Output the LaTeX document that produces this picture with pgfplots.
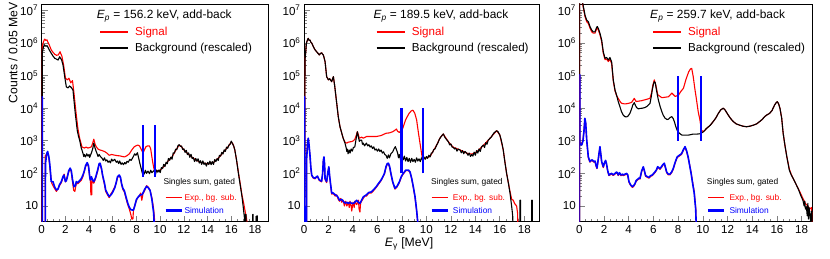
\documentclass[border=0pt]{standalone}
\usepackage{pgfplots}
\pgfplotsset{compat=1.18}
\usepackage{fontspec}
\setmainfont{Liberation Sans}
\definecolor{rootred}{RGB}{255,0,0}
\definecolor{rootblue}{RGB}{0,0,255}
\pgfplotsset{
 myAxisStyle/.style={
  scale only axis, ymin=3.3, ymax=1.57e7, xmin=0,
  height=217.7pt, anchor=south west,
  tick pos=left, tick align=inside,
  major tick length=6pt, minor tick length=3pt,
  xtick={0,2,...,18}, minor x tick num=3,
  ytick={10,100,1000,10000,100000,1000000,10000000},
  yticklabels={10,10\textsuperscript{2},10\textsuperscript{3},10\textsuperscript{4},10\textsuperscript{5},10\textsuperscript{6},10\textsuperscript{7}},
  /pgf/number format/assume math mode=true,
  tick label style={font=\fontsize{11.6}{13}\selectfont},
  xticklabel style={yshift=-0.5pt},
  axis line style={line width=0.8pt},
  every tick/.append style={line width=0.7pt},
  clip=true,
 },
}
\tikzset{
 myBg/.style={black, line width=1.1pt, line join=round},
 mySig/.style={rootred, line width=1.1pt, line join=round},
 myExp/.style={rootred, line width=1.1pt, line join=round},
 mySim/.style={rootblue, line width=1.6pt, line join=round},
 myGate/.style={rootblue, line width=2.4pt},
}
\begin{document}
\begin{tikzpicture}
\path[use as bounding box] (0,0) rectangle (830pt,259pt);
% ---------------- Panel 1 ----------------
\begin{axis}[ymode=log, myAxisStyle, at={(41.7pt,37.3pt)}, width=226.3pt, xmax=19.1]
\addplot[mySig] coordinates {(0.02,1) (0.05,8e5) (0.15,1.1e6) (0.25,1.32e6) (0.35,1.2e6) (0.45,1.25e6) (0.5,1.1e6) (0.65,8.5e5) (0.8,6.2e5) (0.95,5.2e5) (1.1,4.5e5) (1.25,4.2e5) (1.4,4.3e5) (1.55,5.4e5) (1.62,4.6e5) (1.7,4.0e5) (1.85,2.1e5) (2.0,8.5e4) (2.15,7.4e4) (2.3,8.3e4) (2.45,6.0e4) (2.6,7.0e4) (2.72,3.0e4) (2.9,7.1e3) (3.05,2.45e3) (3.2,1.2e3) (3.4,650) (3.6,600) (3.75,640) (3.9,600) (4.05,620) (4.2,660) (4.3,850) (4.4,1120) (4.5,800) (4.6,660) (4.75,560) (4.9,525) (5.1,500) (5.3,470) (5.5,420) (5.7,360) (5.9,380) (6.2,360) (6.4,350) (6.6,345) (6.8,330) (7.0,320) (7.2,350) (7.4,400) (7.6,520) (7.8,650) (7.95,700) (8.1,740) (8.25,700) (8.4,550) (8.55,420) (8.7,560) (8.8,660) (8.95,700) (9.1,690) (9.2,560) (9.3,320) (9.4,190) (9.5,125) (9.6,110) (9.8,120) (10.0,125) (10.3,160) (10.6,225) (11.0,320) (11.3,500) (11.6,740) (11.8,660) (12.0,525) (12.5,355) (13.0,257) (13.5,215) (14.0,195) (14.5,215) (15.0,320) (15.5,525) (15.8,710) (16.0,930) (16.15,790) (16.3,525) (16.45,250) (16.6,110) (16.75,50) (16.9,22) (17.05,12) (17.2,6) (17.3,4) (17.35,1)};
\addplot[myBg] coordinates {(0.02,1) (0.05,5e5) (0.15,7.8e5) (0.25,8.7e5) (0.35,7.9e5) (0.45,8.3e5) (0.53,7.4e5) (0.65,6.0e5) (0.81,4.8e5) (0.95,4.0e5) (1.1,3.4e5) (1.25,3.2e5) (1.38,3.0e5) (1.52,3.8e5) (1.6,3.3e5) (1.66,3.2e5) (1.8,2.1e5) (1.94,9.3e4) (2.08,4.5e4) (2.22,4.2e4) (2.36,4.8e4) (2.5,4.3e4) (2.64,3.6e4) (2.72,1.8e4) (2.83,7.1e3) (3.0,2.1e3) (3.1,1.4e3) (3.2,1.05e3) (3.34,600) (3.48,420) (3.55,330) (3.6,380) (3.7,320) (3.8,400) (3.9,340) (4.0,380) (4.05,310) (4.19,420) (4.3,560) (4.4,850) (4.5,600) (4.6,470) (4.7,380) (4.75,330) (4.85,380) (4.95,330) (5.1,290) (5.2,250) (5.3,300) (5.4,240) (5.5,260) (5.6,220) (5.7,240) (5.8,210) (5.9,275) (6.0,240) (6.16,270) (6.3,220) (6.4,240) (6.5,200) (6.58,240) (6.7,190) (6.8,210) (6.9,185) (7.0,215) (7.1,195) (7.2,235) (7.3,220) (7.44,270) (7.55,250) (7.72,320) (7.85,400) (7.95,360) (8.08,430) (8.2,280) (8.28,205) (8.4,140) (8.5,100) (8.55,118) (8.65,95) (8.75,125) (8.85,100) (8.97,118) (9.1,98) (9.2,125) (9.3,105) (9.4,115) (9.5,123) (9.6,92) (9.7,127) (9.8,109) (9.9,128) (10.0,106) (10.1,151) (10.2,141) (10.3,189) (10.4,162) (10.5,220) (10.6,198) (10.7,288) (10.8,253) (10.9,315) (11.0,272) (11.1,426) (11.2,418) (11.3,550) (11.4,534) (11.5,704) (11.6,760) (11.7,675) (11.8,693) (11.9,543) (12.0,567) (12.1,441) (12.2,510) (12.3,378) (12.4,424) (12.5,312) (12.6,385) (12.7,285) (12.8,305) (12.9,231) (13.0,288) (13.1,236) (13.2,281) (13.3,207) (13.4,244) (13.5,189) (13.6,242) (13.7,189) (13.8,210) (13.9,167) (14.0,218) (14.1,188) (14.2,238) (14.3,185) (14.4,231) (14.5,189) (14.6,265) (14.7,230) (14.8,284) (14.9,251) (15.0,358) (15.1,337) (15.2,442) (15.3,392) (15.4,528) (15.5,473) (15.6,638) (15.7,589) (15.8,746) (15.9,779) (16.0,977) (16.1,817) (16.2,700) (16.3,525) (16.45,250) (16.6,102) (16.75,45) (16.9,20) (17.0,10) (17.1,4.7) (17.15,1) (17.2,1) (17.2,5.5) (17.25,5.5) (17.25,1) (17.8,1) (17.8,5.5) (17.85,5.5) (17.85,1) (18.15,1) (18.15,5) (18.2,5) (18.2,1)};
\addplot[myExp] coordinates {(0,1) (0,2e4) (0.05,2e4) (0.05,1) (0.28,1) (0.3,350) (0.4,380) (0.5,420) (0.6,300) (0.67,180) (0.75,90) (0.85,50) (0.95,42) (1.1,34) (1.24,28) (1.38,34) (1.5,42) (1.66,52) (1.8,75) (1.9,95) (2.0,55) (2.08,62) (2.17,85) (2.28,110) (2.4,140) (2.5,110) (2.6,55) (2.7,30) (2.8,28) (2.92,50) (3.05,48) (3.2,55) (3.35,62) (3.48,80) (3.6,115) (3.7,160) (3.84,200) (3.95,160) (4.05,80) (4.12,55) (4.15,22) (4.22,22) (4.25,70) (4.3,60) (4.4,50) (4.55,70) (4.73,120) (4.85,190) (4.93,195) (5.05,130) (5.15,80) (5.3,45) (5.4,28) (5.55,22) (5.7,18) (5.85,24) (5.98,28) (6.18,40) (6.3,52) (6.4,75) (6.55,85) (6.65,72) (6.75,45) (6.85,32) (6.98,27) (7.1,18) (7.26,11) (7.4,8) (7.55,5) (7.6,4) (7.7,4) (7.75,8) (7.85,10) (7.97,14) (8.1,18) (8.26,20) (8.35,25) (8.45,15) (8.55,24) (8.7,30) (8.85,42) (9.0,38) (9.15,30) (9.3,18) (9.45,8) (9.55,3) (9.6,1)};
\addplot[mySim] coordinates {(0,1) (0,2.2e4) (0.05,2.2e4) (0.05,1) (0.3,1) (0.32,200) (0.42,400) (0.5,470) (0.6,330) (0.67,210) (0.75,100) (0.8,56) (0.95,56) (1.1,38) (1.24,31) (1.38,33) (1.5,45) (1.66,56) (1.8,80) (1.88,89) (2.0,56) (2.08,60) (2.17,79) (2.28,120) (2.4,145) (2.5,120) (2.6,65) (2.72,39) (2.85,42) (2.92,56) (3.05,52) (3.2,60) (3.35,70) (3.48,89) (3.6,120) (3.7,170) (3.84,214) (3.95,170) (4.05,80) (4.1,63) (4.2,79) (4.3,62) (4.4,56) (4.55,75) (4.73,130) (4.85,200) (4.93,205) (5.05,140) (5.15,85) (5.3,50) (5.4,31) (5.55,24) (5.7,19.5) (5.85,22) (5.98,26) (6.18,37) (6.3,55) (6.4,79) (6.55,89) (6.65,75) (6.75,47) (6.85,35) (6.98,29) (7.1,20) (7.26,12.3) (7.4,9) (7.55,7.6) (7.75,7.5) (7.85,10) (8.0,16) (8.15,19) (8.3,22) (8.45,22) (8.55,25) (8.7,33) (8.85,40) (9.0,36) (9.15,30) (9.3,16) (9.45,6) (9.55,1)};
\addplot[myGate] coordinates {(8.57,80) (8.57,3000)};
\addplot[myGate] coordinates {(9.57,80) (9.57,3000)};
\end{axis}
% ---------------- Panel 2 ----------------
\begin{axis}[ymode=log, myAxisStyle, at={(304pt,37.3pt)}, width=235pt, xmax=19.2]
\addplot[mySig] coordinates {(0.05,1) (0.08,3e5) (0.2,1.0e6) (0.3,1.3e6) (0.35,1.38e6) (0.42,1.2e6) (0.49,1.23e6) (0.56,1.05e6) (0.63,1.0e6) (0.76,7.8e5) (0.9,6.2e5) (1.03,5.4e5) (1.15,4.8e5) (1.25,4.3e5) (1.35,4.8e5) (1.44,5.0e5) (1.52,4.5e5) (1.58,4.3e5) (1.72,2.7e5) (1.85,9.3e4) (1.99,7.4e4) (2.1,8.0e4) (2.26,6.5e4) (2.4,9.3e4) (2.5,5.1e4) (2.67,1.45e4) (2.8,5.5e3) (2.94,2.7e3) (3.08,1.74e3) (3.2,1.2e3) (3.35,900) (3.49,850) (3.6,900) (3.76,930) (3.9,950) (4.03,1000) (4.15,1100) (4.25,1400) (4.36,1900) (4.45,1500) (4.52,1200) (4.71,1300) (4.84,1200) (5.1,1350) (5.5,1350) (5.9,1350) (6.3,1450) (6.7,1700) (6.98,1750) (7.25,1900) (7.46,2150) (7.55,2300) (7.65,1950) (7.79,1800) (7.9,2000) (8.06,2350) (8.3,4400) (8.57,6800) (8.75,8200) (8.9,8700) (9.05,7000) (9.2,4400) (9.35,1740) (9.48,830) (9.6,420) (9.69,257) (9.8,290) (10.0,300) (10.3,330) (10.6,520) (10.84,740) (11.1,1200) (11.38,1620) (11.6,1200) (11.8,930) (12.2,630) (12.75,525) (13.3,417) (13.7,390) (14.1,450) (14.65,720) (15.2,1200) (15.74,2040) (16.0,1500) (16.28,520) (16.55,102) (16.83,28) (16.97,16) (17.1,15) (17.2,12) (17.37,10) (17.45,6) (17.5,1)};
\addplot[myBg] coordinates {(0.05,1) (0.08,3e5) (0.2,1.0e6) (0.3,1.3e6) (0.35,1.38e6) (0.42,1.2e6) (0.49,1.23e6) (0.56,1.05e6) (0.63,1.0e6) (0.76,7.8e5) (0.9,6.2e5) (1.03,5.4e5) (1.15,4.8e5) (1.25,4.3e5) (1.35,4.8e5) (1.44,5.0e5) (1.52,4.5e5) (1.58,4.3e5) (1.72,2.7e5) (1.85,9.3e4) (1.99,7.4e4) (2.1,8.0e4) (2.26,6.5e4) (2.4,9.3e4) (2.5,5.1e4) (2.67,1.45e4) (2.8,5.5e3) (2.94,2.7e3) (3.08,1.74e3) (3.2,1.2e3) (3.35,850) (3.45,600) (3.5,470) (3.55,550) (3.6,400) (3.7,520) (3.76,420) (3.85,560) (3.95,480) (4.03,620) (4.15,650) (4.25,1100) (4.36,1900) (4.45,1300) (4.52,960) (4.6,1050) (4.71,1050) (4.78,780) (4.84,850) (4.95,700) (5.1,850) (5.2,700) (5.3,760) (5.4,640) (5.5,700) (5.6,580) (5.7,650) (5.8,520) (5.9,560) (6.0,480) (6.1,560) (6.2,470) (6.3,520) (6.4,420) (6.5,460) (6.6,380) (6.7,360) (6.8,290) (6.9,370) (6.98,300) (7.1,400) (7.25,460) (7.35,560) (7.46,660) (7.55,540) (7.65,420) (7.72,300) (7.79,380) (7.9,250) (8.0,330) (8.1,260) (8.2,340) (8.3,240) (8.4,310) (8.5,230) (8.6,290) (8.7,220) (8.8,290) (8.9,230) (9.0,270) (9.1,220) (9.2,300) (9.3,240) (9.4,280) (9.5,230) (9.6,300) (9.7,250) (9.8,320) (9.9,270) (10.0,330) (10.1,290) (10.2,360) (10.3,320) (10.4,420) (10.5,430) (10.6,540) (10.7,560) (10.84,740) (10.95,880) (11.05,1100) (11.2,1350) (11.38,1620) (11.5,1300) (11.6,1150) (11.8,930) (11.9,750) (12.0,800) (12.1,640) (12.2,630) (12.3,560) (12.4,600) (12.5,480) (12.6,560) (12.75,525) (12.85,430) (12.95,500) (13.05,400) (13.15,470) (13.3,417) (13.4,360) (13.5,420) (13.6,330) (13.7,380) (13.8,340) (13.9,450) (14.0,360) (14.1,500) (14.2,420) (14.3,560) (14.4,470) (14.5,650) (14.65,740) (14.75,620) (14.85,880) (14.95,780) (15.05,1050) (15.2,1200) (15.3,1300) (15.4,1500) (15.5,1700) (15.6,1850) (15.74,2040) (15.85,1900) (16.0,1500) (16.1,1100) (16.2,750) (16.28,520) (16.4,240) (16.55,102) (16.7,50) (16.83,25) (16.97,9.5) (17.05,5) (17.1,1) (17.65,1) (17.65,15) (17.7,15) (17.7,1) (18.6,1) (18.6,15) (18.65,15) (18.65,1)};
\addplot[myExp] coordinates {(0,1) (0,2.2e4) (0.05,2.2e4) (0.05,1) (0.2,1) (0.22,350) (0.3,950) (0.35,1150) (0.42,650) (0.5,300) (0.56,140) (0.63,85) (0.75,72) (0.9,68) (1.0,75) (1.1,80) (1.25,60) (1.44,55) (1.52,95) (1.58,240) (1.63,300) (1.68,190) (1.72,65) (1.85,52) (1.95,100) (2.03,150) (2.1,75) (2.26,23) (2.4,24) (2.55,20) (2.67,22) (2.8,16) (2.9,14) (3.0,17) (3.08,13) (3.2,15) (3.3,10) (3.4,14) (3.5,10) (3.62,13) (3.7,9) (3.76,14) (3.85,10) (3.9,7) (4.0,13) (4.1,9) (4.15,14) (4.3,11) (4.45,15) (4.5,8) (4.57,6.5) (4.62,12) (4.7,14) (4.84,17) (5.0,21) (5.1,20) (5.3,25) (5.5,25) (5.7,30) (5.9,37) (6.1,47) (6.3,60) (6.45,77) (6.57,95) (6.7,150) (6.8,190) (6.9,195) (7.0,150) (7.1,95) (7.25,52) (7.43,33) (7.6,38) (7.79,52) (7.95,76) (8.06,90) (8.2,105) (8.3,120) (8.44,122) (8.55,120) (8.66,108) (8.8,68) (8.93,37) (9.07,18) (9.2,7) (9.3,3) (9.34,1)};
\addplot[mySim] coordinates {(0,1) (0,2.2e4) (0.05,2.2e4) (0.05,1) (0.2,1) (0.22,300) (0.3,900) (0.35,1200) (0.42,700) (0.5,320) (0.56,150) (0.63,89) (0.75,75) (0.9,71) (1.0,78) (1.1,82) (1.25,63) (1.44,58) (1.52,100) (1.58,250) (1.63,320) (1.68,200) (1.72,70) (1.85,56) (1.95,110) (2.03,160) (2.1,80) (2.26,25) (2.4,25) (2.55,22) (2.67,21) (2.8,18) (2.9,15) (3.08,16) (3.2,14) (3.35,12.3) (3.5,13) (3.62,12) (3.76,13) (3.9,12) (4.03,12) (4.15,13) (4.3,15) (4.45,13) (4.57,12) (4.7,15) (4.84,19) (5.1,22) (5.3,26) (5.5,27) (5.7,32) (5.9,39) (6.1,50) (6.3,63) (6.45,80) (6.57,100) (6.7,160) (6.8,200) (6.9,205) (7.0,160) (7.1,100) (7.25,55) (7.43,35) (7.6,40) (7.79,55) (7.95,80) (8.06,95) (8.2,110) (8.3,125) (8.44,126) (8.55,125) (8.66,112) (8.8,70) (8.93,39) (9.07,19.5) (9.2,7.6) (9.3,3) (9.34,1)};
\addplot[myGate] coordinates {(7.98,100) (7.98,1e4)};
\addplot[myGate] coordinates {(9.7,100) (9.7,1e4)};
\end{axis}
% ---------------- Panel 3 ----------------
\begin{axis}[ymode=log, myAxisStyle, at={(579.3pt,37.3pt)}, width=233.5pt, xmax=18.9]
\addplot[mySig] coordinates {(0.02,1) (0.03,2.7e7) (0.2,2.2e7) (0.3,1.35e7) (0.46,6.5e6) (0.6,4.5e6) (0.73,4.0e6) (0.86,2.9e6) (1.0,2.2e6) (1.13,2.0e6) (1.27,2.0e6) (1.4,2.7e6) (1.46,2.9e6) (1.54,2.5e6) (1.67,1.8e6) (1.81,1.1e6) (1.94,4.9e5) (2.08,3.1e5) (2.21,3.2e5) (2.35,2.7e5) (2.48,3.2e5) (2.62,2.3e5) (2.75,6.8e4) (2.89,3.4e4) (3.02,2.4e4) (3.15,2.0e4) (3.3,1.6e4) (3.42,1.41e4) (3.69,1.35e4) (3.96,1.4e4) (4.23,1.5e4) (4.45,2.0e4) (4.6,1.6e4) (5.05,1.7e4) (5.72,2.0e4) (5.85,3.0e4) (5.95,5e4) (6.07,7.4e4) (6.2,5e4) (6.35,2.6e4) (6.68,2.1e4) (7.22,2.24e4) (7.49,2.9e4) (7.76,2.3e4) (8.03,2.5e4) (8.2,3.2e4) (8.43,4.1e4) (8.65,8.0e4) (8.86,1.32e5) (9.0,1.6e5) (9.1,1.66e5) (9.22,9.3e4) (9.35,4e4) (9.49,1.78e4) (9.62,8e3) (9.76,4.4e3) (9.89,2.1e3) (10.05,1.9e3) (10.3,2.4e3) (10.6,3.0e3) (10.84,3.9e3) (11.05,5.0e3) (11.25,6.9e3) (11.45,8.9e3) (11.65,1.0e4) (11.8,8.8e3) (12.05,6.2e3) (12.25,4.8e3) (12.46,3.9e3) (12.7,3.3e3) (13.0,3.0e3) (13.25,2.8e3) (13.53,2.7e3) (13.8,2.8e3) (14.07,3.0e3) (14.35,3.3e3) (14.6,3.9e3) (14.8,4.5e3) (15.0,5.5e3) (15.2,6.3e3) (15.4,6.9e3) (15.6,8.5e3) (15.81,1.26e4) (15.92,1.45e4) (16.02,1.58e4) (16.12,1.4e4) (16.24,1.0e4) (16.38,5.0e3) (16.5,1.7e3) (16.65,700) (16.8,320) (16.9,210) (17.0,135) (17.15,95) (17.3,71) (17.57,44) (17.8,30) (18.1,17) (18.3,12) (18.5,10) (18.65,8) (18.8,9) (18.87,1)};
\addplot[myBg] coordinates {(0.02,1) (0.03,3e7) (0.2,2.5e7) (0.3,1.5e7) (0.46,7.2e6) (0.6,5.0e6) (0.73,4.5e6) (0.86,3.2e6) (1.0,2.5e6) (1.13,2.2e6) (1.27,2.2e6) (1.4,3.0e6) (1.46,3.2e6) (1.54,2.8e6) (1.67,2.0e6) (1.81,1.23e6) (1.94,5.4e5) (2.08,3.4e5) (2.21,3.6e5) (2.35,3.0e5) (2.48,3.6e5) (2.62,2.6e5) (2.75,7.4e4) (2.89,3.6e4) (3.02,2.5e4) (3.15,1.6e4) (3.29,1.1e4) (3.42,7.8e3) (3.55,6.2e3) (3.69,5.5e3) (3.83,5.4e3) (3.96,5.8e3) (4.1,7.0e3) (4.23,9.5e3) (4.33,1.25e4) (4.45,1.48e4) (4.55,1.2e4) (4.64,1.05e4) (4.78,9.5e3) (4.91,9.8e3) (5.1,1.0e4) (5.32,1.05e4) (5.5,1.15e4) (5.72,1.4e4) (5.82,2.2e4) (5.9,3.5e4) (6.0,5.5e4) (6.07,6.5e4) (6.15,6.0e4) (6.25,3.5e4) (6.4,1.78e4) (6.55,1.1e4) (6.68,7.8e3) (6.8,6.0e3) (6.95,4.9e3) (7.1,4.5e3) (7.22,4.6e3) (7.35,5.2e3) (7.49,5.5e3) (7.6,4.8e3) (7.7,3.8e3) (7.8,2.8e3) (7.92,2.1e3) (8.1,1.7e3) (8.3,1.5e3) (8.6,1.5e3) (8.86,1.5e3) (9.2,1.6e3) (9.5,1.6e3) (9.8,1.65e3) (10.05,1.9e3) (10.3,2.4e3) (10.6,3.0e3) (10.84,3.9e3) (11.05,5.0e3) (11.25,6.9e3) (11.45,8.9e3) (11.65,1.0e4) (11.8,8.8e3) (12.05,6.2e3) (12.25,4.8e3) (12.46,3.9e3) (12.7,3.3e3) (13.0,3.0e3) (13.25,2.8e3) (13.53,2.7e3) (13.8,2.8e3) (14.07,3.0e3) (14.35,3.3e3) (14.6,3.9e3) (14.8,4.5e3) (15.0,5.5e3) (15.2,6.3e3) (15.4,6.9e3) (15.6,8.5e3) (15.81,1.26e4) (15.92,1.45e4) (16.02,1.58e4) (16.12,1.4e4) (16.24,1.0e4) (16.38,5.0e3) (16.5,1.7e3) (16.65,700) (16.8,320) (16.9,200) (17.0,126) (17.15,90) (17.3,71) (17.45,55) (17.57,44) (17.7,35) (17.8,28) (17.95,20) (18.1,15) (18.2,10) (18.25,14) (18.3,8) (18.38,9.5) (18.45,5) (18.5,12) (18.55,4) (18.6,9) (18.65,6) (18.72,3.5) (18.8,7) (18.87,1)};
\addplot[myExp] coordinates {(0,1) (0,1.0e5) (0.05,1.0e5) (0.05,850) (0.2,780) (0.3,1100) (0.38,2200) (0.45,4700) (0.52,3300) (0.6,1000) (0.73,300) (0.86,220) (0.95,240) (1.05,250) (1.17,220) (1.27,230) (1.35,170) (1.43,140) (1.52,240) (1.6,400) (1.67,630) (1.74,380) (1.81,220) (1.94,150) (2.05,210) (2.13,240) (2.2,190) (2.3,115) (2.4,85) (2.5,90) (2.62,96) (2.75,86) (2.89,95) (3.02,105) (3.1,95) (3.15,86) (3.25,100) (3.37,85) (3.5,90) (3.56,85) (3.7,90) (3.83,95) (3.92,86) (4.02,53) (4.15,43) (4.3,37) (4.4,40) (4.5,46) (4.6,57) (4.72,63) (4.82,69) (4.91,67) (5.05,115) (5.18,152) (5.27,115) (5.37,81) (5.5,76) (5.64,71) (5.77,81) (5.9,85) (6.02,95) (6.12,105) (6.25,124) (6.34,152) (6.45,143) (6.53,133) (6.65,152) (6.78,181) (6.88,195) (6.98,143) (7.07,105) (7.2,90) (7.34,90) (7.47,105) (7.6,133) (7.76,210) (7.92,305) (8.1,342) (8.27,380) (8.45,532) (8.56,627) (8.68,475) (8.81,305) (8.95,170) (9.05,105) (9.17,55) (9.3,28) (9.42,9) (9.5,1)};
\addplot[mySim] coordinates {(0,1) (0,1.05e5) (0.05,1.05e5) (0.05,800) (0.2,750) (0.3,1000) (0.38,2000) (0.45,4900) (0.52,3500) (0.6,1050) (0.73,320) (0.86,230) (0.95,250) (1.05,260) (1.17,230) (1.27,240) (1.35,180) (1.43,145) (1.52,250) (1.6,420) (1.67,660) (1.74,400) (1.81,230) (1.94,160) (2.05,220) (2.13,250) (2.2,200) (2.3,120) (2.4,89) (2.5,95) (2.62,100) (2.75,90) (2.89,100) (3.02,110) (3.1,100) (3.15,90) (3.25,105) (3.37,89) (3.5,95) (3.56,89) (3.7,95) (3.83,100) (3.92,90) (4.02,56) (4.15,45) (4.3,39) (4.4,42) (4.5,48) (4.6,60) (4.72,66) (4.82,72) (4.91,70) (5.05,120) (5.18,160) (5.27,120) (5.37,85) (5.5,80) (5.64,75) (5.77,85) (5.9,89) (6.02,100) (6.12,110) (6.25,130) (6.34,160) (6.45,150) (6.53,140) (6.65,160) (6.78,190) (6.88,205) (6.98,150) (7.07,110) (7.2,95) (7.34,95) (7.47,110) (7.6,140) (7.76,220) (7.92,320) (8.1,360) (8.27,400) (8.45,560) (8.56,660) (8.68,500) (8.81,320) (8.95,160) (9.05,100) (9.17,50) (9.3,25) (9.42,8) (9.5,1)};
\addplot[myGate] coordinates {(8.0,1000) (8.0,1e5)};
\addplot[myGate] coordinates {(9.85,1000) (9.85,1e5)};
\end{axis}
% ---------------- Labels and legends ----------------
\node[rotate=90, anchor=base east, font=\fontsize{12.2}{14}\selectfont, inner sep=0pt] at (17.5pt,257pt) {Counts / 0.05 MeV};
\node[anchor=base, font=\fontsize{12.2}{14}\selectfont, inner sep=0pt] at (409pt,12pt) {\textit{E}\textsubscript{γ} [MeV]};
\foreach \tx/\lx/\ty/\ep in {96.7/100/135/156.2, 373.3/376.7/411.7/189.5, 650/653/688/259.7}{
  \node[anchor=base west, font=\fontsize{11.9}{14}\selectfont, inner sep=0pt] at (\tx pt,240pt) {\textit{E}\textsubscript{\textit{p}} = \ep\ keV, add-back};
  \draw[rootred, line width=1.2pt] (\lx pt,227pt) -- ++(28pt,0pt);
  \node[anchor=base west, font=\fontsize{11.6}{14}\selectfont, inner sep=0pt, text=rootred] at (\ty pt,223.3pt) {Signal};
  \draw[black, line width=1.2pt] (\lx pt,211pt) -- ++(28pt,0pt);
  \node[anchor=base west, font=\fontsize{11.6}{14}\selectfont, inner sep=0pt] at (\ty pt,207.3pt) {Background (rescaled)};
}
\foreach \sx/\lx/\txx in {163.3/165.7/184.3, 431/431.7/452.7, 706.7/708/729.3}{
  \node[anchor=base west, font=\fontsize{8.4}{10}\selectfont, inner sep=0pt] at (\sx pt,74.3pt) {Singles sum, gated};
  \draw[rootred, line width=1.2pt] (\lx pt,61.7pt) -- ++(16pt,0pt);
  \node[anchor=base west, font=\fontsize{8.4}{10}\selectfont, inner sep=0pt, text=rootred] at (\txx pt,58.7pt) {Exp., bg. sub.};
  \draw[rootblue, line width=2.4pt] (\lx pt,48.3pt) -- ++(16pt,0pt);
  \node[anchor=base west, font=\fontsize{8.4}{10}\selectfont, inner sep=0pt, text=rootblue] at (\txx pt,45.3pt) {Simulation};
}
\end{tikzpicture}
\end{document}
